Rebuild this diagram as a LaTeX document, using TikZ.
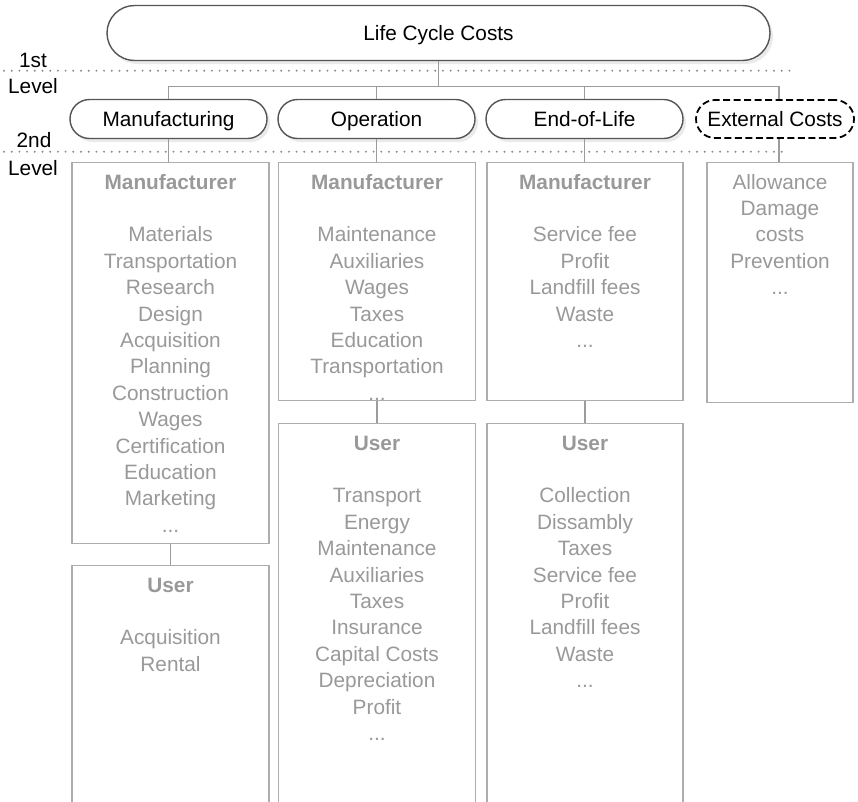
\documentclass[tikz,border=0pt]{standalone}
\usepackage{fontspec}
\setmainfont{Liberation Sans}
\usetikzlibrary{shadows}
\definecolor{txtgray}{HTML}{999999}
\definecolor{boxgray}{HTML}{ADADAD}
\definecolor{conngray}{HTML}{9C9C9C}
\definecolor{edgegray}{HTML}{555555}
\definecolor{dotgray}{HTML}{8C8C8C}
\begin{document}
\begin{tikzpicture}[x=1pt,y=-1pt,
  mainnode/.style={draw=edgegray, line width=1.4pt, fill=white, text=black,
    font=\fontsize{20.8}{24}\selectfont, text height=14.9pt, text depth=0pt,
    inner sep=0pt, drop shadow={shadow xshift=3pt, shadow yshift=-3.5pt, fill=black!16}},
  extnode/.style={draw=black, line width=1.8pt, dash pattern=on 7pt off 3.5pt, fill=white, text=black,
    font=\fontsize{20.8}{24}\selectfont, text height=14.9pt, text depth=0pt,
    inner sep=0pt, rounded corners=19pt},
  lvl/.style={font=\fontsize{20.8}{24}\selectfont, text=black, inner sep=0pt, anchor=base},
  gbox/.style={draw=boxgray, line width=1.2pt, fill=white, inner sep=0pt, anchor=north},
  boxtxt/.style={font=\fontsize{20.8}{26.4}\selectfont, text=txtgray, align=center, inner sep=0pt, anchor=north},
  conn/.style={draw=conngray, line width=1.1pt},
  dotline/.style={draw=dotgray, line width=2.2pt, line cap=round, dash pattern=on 0pt off 7.7pt}
]
\useasboundingbox (0,0) rectangle (858,801);
\clip (0,0) rectangle (858,801);

% level dotted lines and labels
\draw[dotline] (4,70.7) -- (792,70.7);
\draw[dotline] (4,151.7) -- (789,151.7);
\node[lvl] (l1a) at (33,67.5) {1st};
\node[lvl] (l1b) at (33,93.5) {Level};
\node[lvl] (l2a) at (34,147.5) {2nd};
\node[lvl] (l2b) at (33,175.5) {Level};

% top node
\node[mainnode, minimum width=663pt, minimum height=55pt, rounded corners=27.5pt] (lcc) at (438.5,33) {Life Cycle Costs};

% second level nodes
\node[mainnode, minimum width=197pt, minimum height=39pt, rounded corners=19.5pt] (n1) at (168.5,119) {Manufacturing};
\node[mainnode, minimum width=197pt, minimum height=39pt, rounded corners=19.5pt] (n2) at (376.5,119) {Operation};
\node[mainnode, minimum width=197pt, minimum height=39pt, rounded corners=19.5pt] (n3) at (584.5,119) {End-of-Life};
\node[extnode, minimum width=158pt, minimum height=38pt] (n4) at (775,119) {External Costs};
\coordinate (n4t) at ([xshift=4pt]n4.north);
\coordinate (n4b) at ([xshift=4pt]n4.south);

% cost boxes
\node[gbox, minimum width=197pt, minimum height=381pt] (mb1) at (170.5,162) {};
\node[gbox, minimum width=197pt, minimum height=260pt] (ub1) at (170.5,565) {};
\node[gbox, minimum width=197pt, minimum height=238pt] (mb2) at (377,162) {};
\node[gbox, minimum width=197pt, minimum height=400pt] (ub2) at (377,423) {};
\node[gbox, minimum width=196pt, minimum height=238pt] (mb3) at (585,162) {};
\node[gbox, minimum width=196pt, minimum height=400pt] (ub3) at (585,423) {};
\node[gbox, minimum width=146pt, minimum height=240pt] (eb) at (780,162) {};

% box texts
\node[boxtxt] (mt1) at ([yshift=-8.5pt]mb1.north) {\strut\textbf{Manufacturer}\\[26.4pt]Materials\\Transportation\\Research\\Design\\Acquisition\\Planning\\Construction\\Wages\\Certification\\Education\\Marketing\\...};
\node[boxtxt] (ut1) at ([yshift=-8.5pt]ub1.north) {\strut\textbf{User}\\[26.4pt]Acquisition\\Rental};
\node[boxtxt] (mt2) at ([yshift=-8.5pt]mb2.north) {\strut\textbf{Manufacturer}\\[26.4pt]Maintenance\\Auxiliaries\\Wages\\Taxes\\Education\\Transportation\\...};
\node[boxtxt] (ut2) at ([yshift=-8.5pt]ub2.north) {\strut\textbf{User}\\[26.4pt]Transport\\Energy\\Maintenance\\Auxiliaries\\Taxes\\Insurance\\Capital Costs\\Depreciation\\Profit\\...};
\node[boxtxt] (mt3) at ([yshift=-8.5pt]mb3.north) {\strut\textbf{Manufacturer}\\[26.4pt]Service fee\\Profit\\Landfill fees\\Waste\\...};
\node[boxtxt] (ut3) at ([yshift=-8.5pt]ub3.north) {\strut\textbf{User}\\[26.4pt]Collection\\Dissambly\\Taxes\\Service fee\\Profit\\Landfill fees\\Waste\\...};
\node[boxtxt] (et) at ([yshift=-8.5pt]eb.north) {\strut Allowance\\Damage\\costs\\Prevention\\...};

% connectors
\draw[conn] (lcc.south) -- ++(0,25) coordinate (jn);
\draw[conn] (n1.north) -- (n1.north |- jn) -- (n4t |- jn) -- (n4t);
\draw[conn] (n2.north) -- (n2.north |- jn);
\draw[conn] (n3.north) -- (n3.north |- jn);
\draw[conn] (n1.south) -- (n1.south |- mb1.north);
\draw[conn] (n2.south) -- (n2.south |- mb2.north);
\draw[conn] (n3.south) -- (n3.south |- mb3.north);
\draw[conn] (n4b) -- (n4b |- eb.north);
\draw[conn] (mb1.south) -- (ub1.north);
\draw[conn] (mb2.south) -- (ub2.north);
\draw[conn] (mb3.south) -- (ub3.north);
\end{tikzpicture}
\end{document}
